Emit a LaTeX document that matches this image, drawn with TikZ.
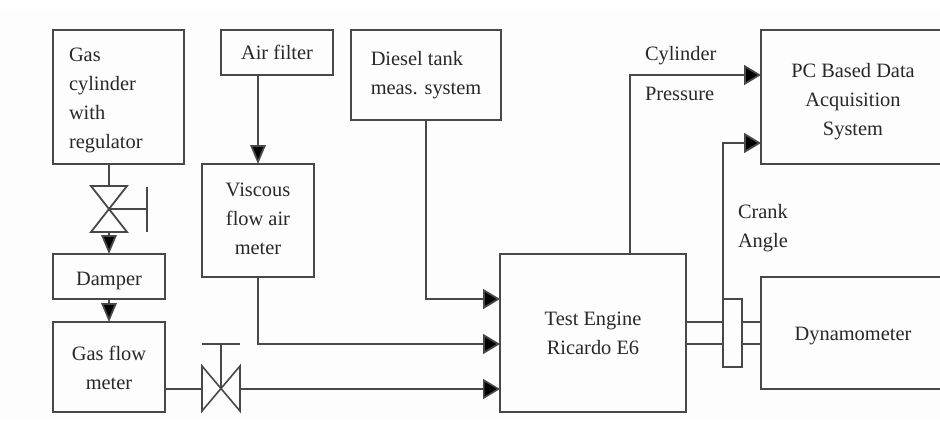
\documentclass[tikz,border=0pt]{standalone}
\usepackage{fontspec}
\setmainfont{Liberation Serif}
\usetikzlibrary{arrows.meta}
\definecolor{ln}{HTML}{484848}
\definecolor{tx}{HTML}{282828}
\definecolor{bg}{HTML}{FDFDFD}
\newcommand{\lift}[1]{\rule{0pt}{#1pt}}
\newcommand{\sink}[1]{\rule[-#1pt]{0pt}{0pt}}
\tikzset{
  x=1pt,y=-1pt,
  every node/.style={font=\fontsize{20.4}{29}\selectfont,text=tx,inner sep=0pt,outer sep=0pt},
  box/.style={draw=ln,line width=1.8pt,line join=miter,align=center},
  blank/.style={align=center},
  wire/.style={draw=ln,line width=1.8pt},
  thin wire/.style={draw=ln,line width=1.6pt},
  vtip/.style={-{Triangle[length=19pt,width=15.5pt,fill=black]}},
  htip/.style={-{Triangle[length=17pt,width=20pt,fill=black]}},
  label text/.style={anchor=west,align=left}
}
\begin{document}
\begin{tikzpicture}
\path[clip] (0,0) rectangle (940,421);
\fill[white] (0,0) rectangle (940,421);
\fill[bg] (0,9) rectangle (940,421);

% boxes
\node[box,minimum width=131pt,minimum height=134pt,text width=99pt,align=left] (gas) at (118.5,97) {\lift{21}Gas\\cylinder\\with\\regulator};
\node[box,minimum width=112pt,minimum height=45pt] (air) at (277,52.5) {Air filter};
\node[box,minimum width=112pt,minimum height=113pt] (visc) at (258,220.5) {Viscous\\flow air\\meter\sink{4}};
\node[box,minimum width=150pt,minimum height=90pt,align=left] (diesel) at (426,75) {Diesel tank\\meas. system};
\node[box,minimum width=112pt,minimum height=45pt] (damper) at (109,276.5) {\lift{22}Damper};
\node[box,minimum width=112pt,minimum height=90pt] (flow) at (109,367) {\lift{16}Gas flow\\meter};
\node[box,minimum width=186pt,minimum height=158pt] (engine) at (593,333) {Test Engine\\Ricardo E6};
\node[box,minimum width=19pt,minimum height=68pt] (crank) at (732.5,333) {};

% right boxes run off the edge of the picture
\node[blank,minimum width=184pt,minimum height=134pt] (pc) at (853,97) {\lift{24}PC Based Data\\Acquisition\\System};
\node[blank,minimum width=184pt,minimum height=112pt] (dyno) at (853,333) {\lift{20}Dynamometer};
\draw[wire] (pc.north east) -- (pc.north west) -- (pc.south west) -- (pc.south east);
\draw[wire] (dyno.north east) -- (dyno.north west) -- (dyno.south west) -- (dyno.south east);

% labels
\node[label text] (lcyl) at (645,56) {Cylinder};
\node[label text] (lpre) at (645,94) {Pressure};
\node[label text] (lcrank) at (738,228.5) {Crank\\Angle};

% valves
\coordinate (v1) at (109,209);
\coordinate (v1top) at (109,186);
\coordinate (v1bot) at (109,232);
\coordinate (v1h) at (147,209);
\coordinate (v2) at (221,389);
\coordinate (v2l) at (202,389);
\coordinate (v2r) at (240,389);
\coordinate (v2h) at (221,344);
\draw[wire,line join=miter] (91,186) -- (127,186) -- (91,232) -- (127,232) -- cycle;
\draw[wire] (v1) -- (v1h);
\draw[wire] (147,187) -- (147,232);
\draw[thin wire,line join=miter] (202,366) -- (202,411) -- (240,366) -- (240,411) -- cycle;
\draw[thin wire] (v2) -- (v2h);
\draw[thin wire] (202,344) -- (240,344);

% connectors
\draw[wire] (v1 |- gas.south) -- (v1top);
\draw[wire,vtip] (v1bot) -- (damper.north);
\draw[wire,vtip] (damper.south) -- (flow.north);
\draw[wire,vtip] (visc.north |- air.south) -- (visc.north);
\coordinate (e1) at (engine.west |- 0,299);
\coordinate (e2) at (engine.west |- 0,344);
\coordinate (e3) at (engine.west |- 0,389);
\draw[wire,htip] (diesel.south) |- (e1);
\draw[wire,htip] (visc.south) |- (e2);
\draw[thin wire] (flow.east |- v2) -- (v2l);
\draw[thin wire,htip] (v2r) -- (e3);

\coordinate (pc1) at (pc.west |- 0,75);
\coordinate (pc2) at (pc.west |- 0,143);
\draw[wire,htip] (630,254) |- (pc1);
\draw[wire,htip] (crank.north west) |- (pc2);

\coordinate (s1) at (700,322);
\coordinate (s2) at (700,344);
\draw[thin wire] (engine.east |- s1) -- (crank.west |- s1);
\draw[thin wire] (engine.east |- s2) -- (crank.west |- s2);
\draw[thin wire] (crank.east |- s1) -- (dyno.west |- s1);
\draw[thin wire] (crank.east |- s2) -- (dyno.west |- s2);
\end{tikzpicture}
\end{document}
